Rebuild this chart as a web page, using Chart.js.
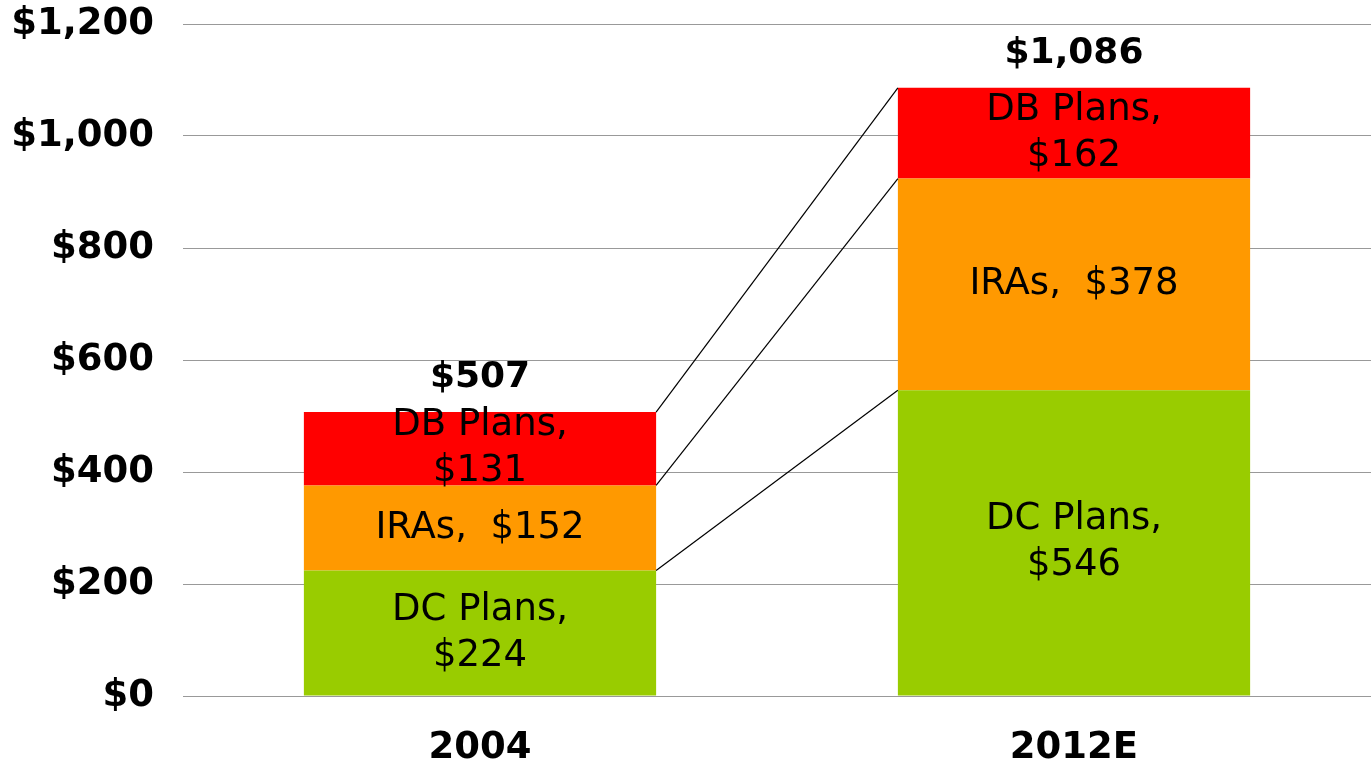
<!DOCTYPE html>
<html>
<head>
    <title>Retirement Assets</title>
    <style>
        html, body { margin: 0; padding: 0; background: #fff; }
        #wrap { width: 1371px; height: 767px; }
    </style>
</head>
<body>
    <div id="wrap"><canvas id="assetChart" width="1371" height="767"></canvas></div>

    <script src="https://cdn.jsdelivr.net/npm/chart.js"></script>
    <script>
        const years = ['2004', '2012E'];
        const dcPlans = [224, 546];
        const iras = [152, 378];
        const dbPlans = [131, 162];
        const totals = [507, 1086];
        const yTicks = [0, 200, 400, 600, 800, 1000, 1200];

        const FONT = "'DejaVu Sans', Verdana, sans-serif";

        // text shown inside each segment (lines)
        const segLabels = [
            [['DC Plans,', '$224'], ['DC Plans,', '$546']],
            [['IRAs,  $152'], ['IRAs,  $378']],
            [['DB Plans,', '$131'], ['DB Plans,', '$162']]
        ];

        const money = v => '$' + v.toLocaleString('en-US');

        // series lines between bars + labels
        const stackExtras = {
            id: 'stackExtras',
            afterDatasetsDraw(chart) {
                const ctx = chart.ctx;
                ctx.save();
                // connecting lines
                ctx.strokeStyle = '#000';
                ctx.lineWidth = 1.2;
                chart.data.datasets.forEach((ds, i) => {
                    const bars = chart.getDatasetMeta(i).data;
                    for (let j = 0; j < bars.length - 1; j++) {
                        const a = bars[j], b = bars[j + 1];
                        ctx.beginPath();
                        ctx.moveTo(a.x + a.width / 2, a.y);
                        ctx.lineTo(b.x - b.width / 2, b.y);
                        ctx.stroke();
                    }
                });
                // segment labels
                ctx.fillStyle = '#000';
                ctx.textAlign = 'center';
                ctx.textBaseline = 'middle';
                ctx.font = '37px ' + FONT;
                const lh = 46;
                chart.data.datasets.forEach((ds, i) => {
                    chart.getDatasetMeta(i).data.forEach((bar, j) => {
                        const lines = segLabels[i][j];
                        const mid = (bar.y + bar.base) / 2;
                        const start = mid - (lines.length - 1) * lh / 2;
                        lines.forEach((t, k) => ctx.fillText(t, bar.x, start + k * lh));
                    });
                });
                // totals
                ctx.font = 'bold 36px ' + FONT;
                ctx.textBaseline = 'alphabetic';
                const yScale = chart.scales.y;
                const topMeta = chart.getDatasetMeta(chart.data.datasets.length - 1);
                totals.forEach((v, j) => {
                    const bar = topMeta.data[j];
                    ctx.fillText(money(v), bar.x, yScale.getPixelForValue(v) - 25);
                });
                ctx.restore();
            }
        };

        const ctx = document.getElementById('assetChart').getContext('2d');
        const chart = new Chart(ctx, {
            type: 'bar',
            data: {
                labels: years,
                datasets: [
                    { label: 'DC Plans', data: dcPlans, backgroundColor: '#99CC00' },
                    { label: 'IRAs', data: iras, backgroundColor: '#FF9900' },
                    { label: 'DB Plans', data: dbPlans, backgroundColor: '#FF0000' }
                ]
            },
            options: {
                responsive: false,
                animation: false,
                layout: { padding: { top: 24, right: 0, bottom: 0, left: 0 } },
                datasets: {
                    bar: { categoryPercentage: 1, barPercentage: 0.593, borderWidth: 0 }
                },
                plugins: {
                    legend: { display: false },
                    tooltip: { enabled: false }
                },
                scales: {
                    x: {
                        stacked: true,
                        grid: { display: true, drawOnChartArea: false, drawTicks: true, tickLength: 34, tickColor: 'rgba(0,0,0,0)' },
                        border: { display: false },
                        ticks: {
                            color: '#000',
                            padding: 0,
                            font: { family: FONT, size: 37, weight: 'bold', lineHeight: 1 }
                        }
                    },
                    y: {
                        stacked: true,
                        min: 0,
                        max: 1200,
                        afterBuildTicks: scale => { scale.ticks = yTicks.map(v => ({ value: v })); },
                        afterFit: scale => { scale.width = 183; },
                        grid: { color: '#999', lineWidth: 1, drawTicks: true, tickLength: 29, tickColor: 'rgba(0,0,0,0)' },
                        border: { display: false },
                        ticks: {
                            color: '#000',
                            padding: 0,
                            font: { family: FONT, size: 37, weight: 'bold' },
                            callback: v => money(v)
                        }
                    }
                }
            },
            plugins: [stackExtras]
        });
    </script>
</body>
</html>
